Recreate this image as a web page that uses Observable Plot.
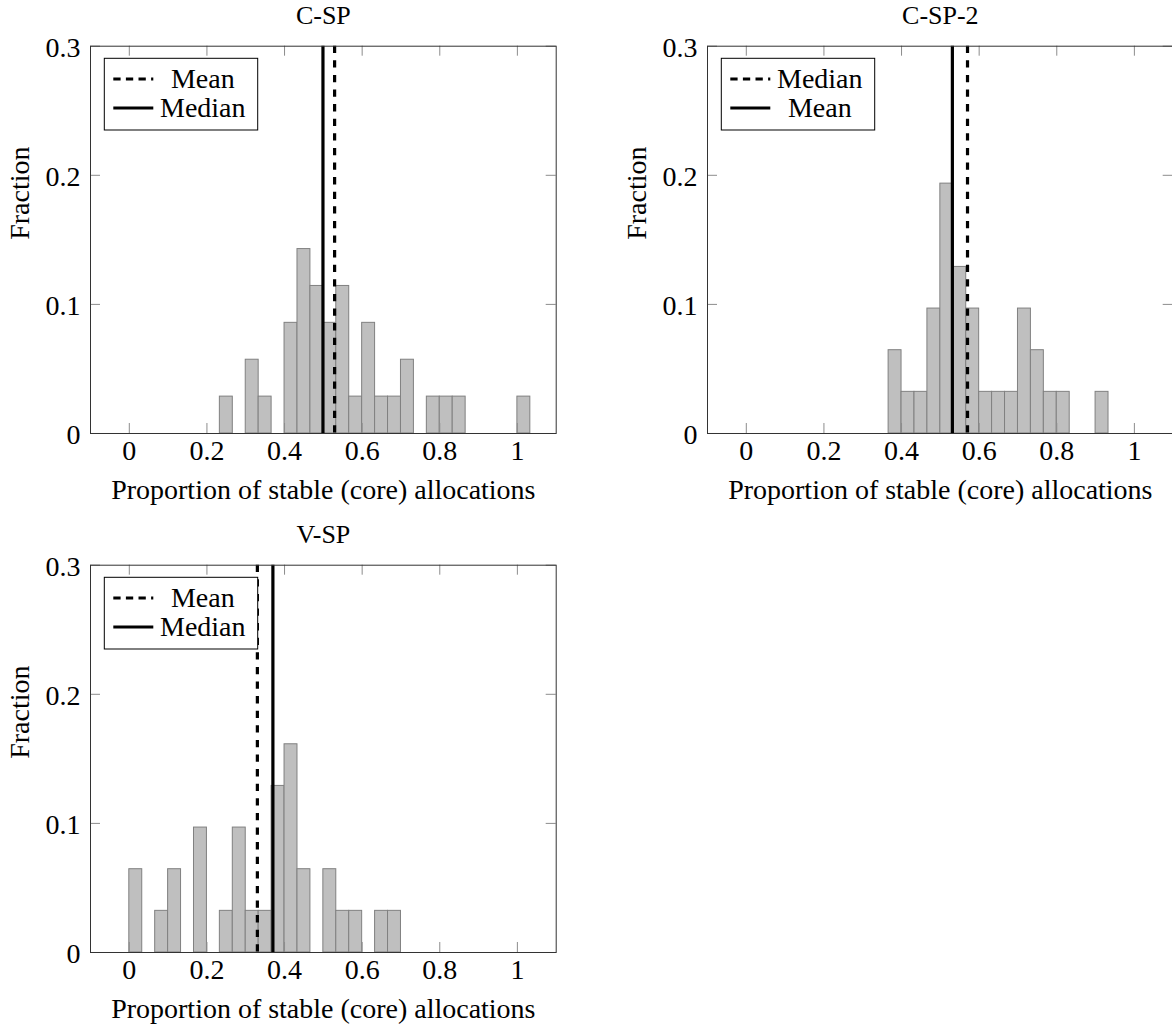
<!DOCTYPE html>
<html>
<head>
<meta charset="utf-8">
<script src="https://cdn.jsdelivr.net/npm/d3@7"></script>
<script src="https://cdn.jsdelivr.net/npm/@observablehq/plot@0.6"></script>
<style>
  html, body { margin: 0; padding: 0; background: #fff; overflow: hidden; }
  #root { position: relative; width: 1172px; height: 1029px; overflow: hidden; background: #fff; }
  .panel { position: absolute; width: 600px; height: 519px; }
  .panel svg { overflow: visible; max-width: none !important; }
  .panel svg text { font-family: "Liberation Serif", "DejaVu Serif", serif !important; }
</style>
</head>
<body>
<div id="root"></div>
<script>
// ---- data ----
const binWidth = 1 / 30;            // histogram bin width
const xTicks = [0, 0.2, 0.4, 0.6, 0.8, 1];
const yTicks = [0, 0.1, 0.2, 0.3];
const xDomain = [-0.1, 1.1];
const yDomain = [0, 0.3];

const titles = ["C-SP", "C-SP-2", "V-SP"];
const xLabel = "Proportion of stable (core) allocations";
const yLabel = "Fraction";

// counts per bin (bin i covers [i/30, (i+1)/30))
const cspCounts  = [0,0,0,0,0,0,0,1,0,2,1,0,3,5,4,3,4,1,3,1,1,2,0,1,1,1,0,0,0,0,1];
const csp2Counts = [0,0,0,0,0,0,0,0,0,0,0,2,1,1,3,6,4,3,1,1,1,3,2,1,1,0,0,1,0,0,0];
const vspCounts  = [2,0,1,2,0,3,0,1,3,1,1,4,5,2,0,2,1,1,0,1,1,0,0,0,0,0,0,0,0,0,0];

// vertical reference lines: dashed and solid values
const cspLines  = {dashed: 0.529, solid: 0.499};
const csp2Lines = {dashed: 0.570, solid: 0.531};
const vspLines  = {dashed: 0.330, solid: 0.370};

// legend labels: [dashed label, solid label]
const cspLegend  = ["Mean", "Median"];
const csp2Legend = ["Median", "Mean"];
const vspLegend  = ["Mean", "Median"];

// ---- drawing ----
const FONT = "Liberation Serif, DejaVu Serif, serif";
const FS = 28;
const W = 600, H = 518.6;
const M = {top: 45.7, left: 90, right: 44.3, bottom: 85.6};
const frameW = W - M.left - M.right;
const frameH = H - M.top - M.bottom;
const tickLen = 10;

function legendMark(labels) {
  return (index, scales, values, dims) => {
    const x0 = dims.marginLeft + 14.3, y0 = dims.marginTop + 12.6;
    const g = d3.create("svg:g");
    g.append("rect").attr("x", x0).attr("y", y0).attr("width", 153.4).attr("height", 71.7)
      .attr("fill", "white").attr("stroke", "black").attr("stroke-width", 1);
    labels.forEach((lab, i) => {
      const cy = y0 + 20.7 + i * 29;
      g.append("line").attr("x1", x0 + 9).attr("x2", x0 + 49).attr("y1", cy).attr("y2", cy)
        .attr("stroke", "black").attr("stroke-width", 3.2)
        .attr("stroke-dasharray", i === 0 ? "7.3,5.3" : null);
      g.append("text").attr("x", x0 + 98.5).attr("y", cy).attr("dy", "0.32em")
        .attr("text-anchor", "middle").attr("font-family", FONT).attr("font-size", FS)
        .attr("fill", "black").text(lab);
    });
    return g.node();
  };
}

function makePanel(title, counts, lines, legendLabels) {
  const total = d3.sum(counts);
  const bins = counts.map((c, i) => ({x1: i * binWidth, x2: (i + 1) * binWidth, frac: c / total}))
    .filter(d => d.frac > 0);
  const txt = {fontFamily: FONT, fontSize: FS, fill: "black"};
  return Plot.plot({
    width: W, height: H,
    marginTop: M.top, marginLeft: M.left, marginRight: M.right, marginBottom: M.bottom,
    x: {domain: xDomain, axis: null},
    y: {domain: yDomain, axis: null},
    style: {background: "white", overflow: "visible", fontFamily: FONT},
    marks: [
      Plot.rectY(bins, {x1: "x1", x2: "x2", y: "frac", fill: "#bfbfbf", stroke: "#808080", strokeWidth: 1}),
      Plot.ruleX([lines.dashed], {x: d => d, stroke: "black", strokeWidth: 3.2, strokeDasharray: "7.3,7.3"}),
      Plot.ruleX([lines.solid], {x: d => d, stroke: "black", strokeWidth: 3.2}),
      // inward ticks
      Plot.ruleX(xTicks, {x: d => d, insetTop: frameH - tickLen, stroke: "#8c8c8c", strokeWidth: 1}),
      Plot.ruleX(xTicks, {x: d => d, insetBottom: frameH - tickLen, stroke: "#8c8c8c", strokeWidth: 1}),
      Plot.ruleY(yTicks, {y: d => d, insetRight: frameW - tickLen, stroke: "#8c8c8c", strokeWidth: 1}),
      Plot.ruleY(yTicks, {y: d => d, insetLeft: frameW - tickLen, stroke: "#8c8c8c", strokeWidth: 1}),
      Plot.frame({stroke: "#333", strokeWidth: 1}),
      // tick labels
      Plot.text(xTicks, {x: d => d, frameAnchor: "bottom", dy: 27, lineAnchor: "bottom", text: d => String(d), ...txt}),
      Plot.text(yTicks, {y: d => d, frameAnchor: "left", dx: -10, dy: 1.5, textAnchor: "end", lineAnchor: "middle", text: d => String(d), ...txt}),
      // axis labels and title
      Plot.text([xLabel], {frameAnchor: "bottom", dy: 65.5, lineAnchor: "bottom", text: d => d, ...txt}),
      Plot.text([yLabel], {frameAnchor: "left", dx: -70, rotate: -90, lineAnchor: "middle", text: d => d, ...txt}),
      Plot.text([title], {frameAnchor: "top", dy: -22, lineAnchor: "bottom", text: d => d, ...txt, fontSize: 26}),
      legendMark(legendLabels)
    ]
  });
}

const root = document.getElementById("root");
const panels = [
  {left: 0, top: 0, node: makePanel(titles[0], cspCounts, cspLines, cspLegend)},
  {left: 616.7, top: 0, node: makePanel(titles[1], csp2Counts, csp2Lines, csp2Legend)},
  {left: 0, top: 518.6, node: makePanel(titles[2], vspCounts, vspLines, vspLegend)}
];
for (const p of panels) {
  const div = document.createElement("div");
  div.className = "panel";
  div.style.left = p.left + "px";
  div.style.top = p.top + "px";
  p.node.style.maxWidth = "none";
  p.node.setAttribute("width", W);
  p.node.setAttribute("height", H);
  div.appendChild(p.node);
  root.appendChild(div);
}
</script>
</body>
</html>
